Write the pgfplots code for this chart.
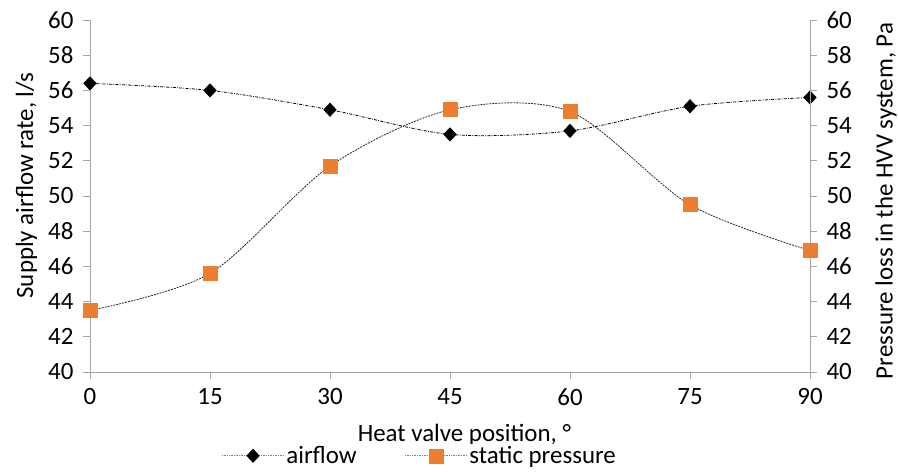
\documentclass[border=0pt]{standalone}
\usepackage{fontspec}
\setmainfont{Carlito}
\usepackage{pgfplots}
\pgfplotsset{compat=1.18}

\definecolor{axgray}{RGB}{166,166,166}
\definecolor{xlorange}{RGB}{237,125,49}

\newcommand{\chartfont}{\fontsize{25}{30}\selectfont}

\pgfplotsset{
  common/.style={
    scale only axis,
    width=720bp, height=352bp,
    xmin=0, xmax=90,
    ymin=40, ymax=60,
    ytick={40,42,...,60},
    tick label style={font=\chartfont},
    label style={font=\chartfont},
    /pgf/number format/assume math mode=true,
    axis line style={axgray, line width=0.9bp},
    major tick style={axgray, line width=0.9bp},
    major tick length=7bp,
    tick align=outside,
    clip=false,
  },
}

\begin{document}
\begin{tikzpicture}
\useasboundingbox (-90bp,-101bp) rectangle (808bp,372bp);

% left axis: supply airflow
\begin{axis}[common,
  axis x line*=bottom,
  axis y line*=left,
  xtick={0,15,...,90},
  xticklabel style={yshift=-6bp},
  yticklabel style={xshift=-6bp},
  ylabel={Supply airflow rate, l/s},
  ylabel style={at={(axis description cs:-0.108,0.53)}, anchor=north, rotate=0},
  xlabel={Heat valve position, °},
  xlabel style={at={(axis description cs:0.52,-0.138)}, anchor=north},
  legend columns=2,
  legend style={draw=none, at={(0.458,-0.238)}, anchor=center,
    font=\chartfont, inner sep=0pt,
    /tikz/every even column/.append style={column sep=46bp}},
  legend image code/.code={
    \draw[gray, densely dotted, line width=0.7bp] (0bp,0bp) -- (62bp,0bp);
    \draw[#1, solid] plot coordinates {(31bp,0bp)};
  },
]
\addplot[black, line width=0.8bp, smooth, tension=0.5,
  dash pattern=on 3pt off 1.3pt on 0.8pt off 1.3pt,
  mark=diamond*, mark size=6.5bp,
  mark options={solid, fill=black, xscale=1.25}]
  coordinates {(0,56.4) (15,56.0) (30,54.9) (45,53.5) (60,53.7) (75,55.1) (90,55.6)};
\addlegendentry{airflow}
\addlegendimage{mark=square*, mark size=7bp, draw=none,
  mark options={fill=xlorange, draw=xlorange}}
\addlegendentry{static pressure}
\end{axis}

% right axis: pressure loss
\begin{axis}[common,
  axis y line*=right,
  axis x line=none,
  yticklabel style={xshift=6bp},
  ylabel={Pressure loss in the HVV system, Pa},
  ylabel style={at={(axis description cs:1.086,0.486)}, anchor=north, rotate=0},
]
\addplot[black!85, line width=0.8bp, smooth, tension=0.5,
  dash pattern=on 2pt off 1pt,
  mark=square*, mark size=7bp,
  mark options={solid, fill=xlorange, draw=xlorange}]
  coordinates {(0,43.5) (15,45.6) (30,51.7) (45,54.9) (60,54.8) (75,49.5) (90,46.9)};
\end{axis}
\end{tikzpicture}
\end{document}
